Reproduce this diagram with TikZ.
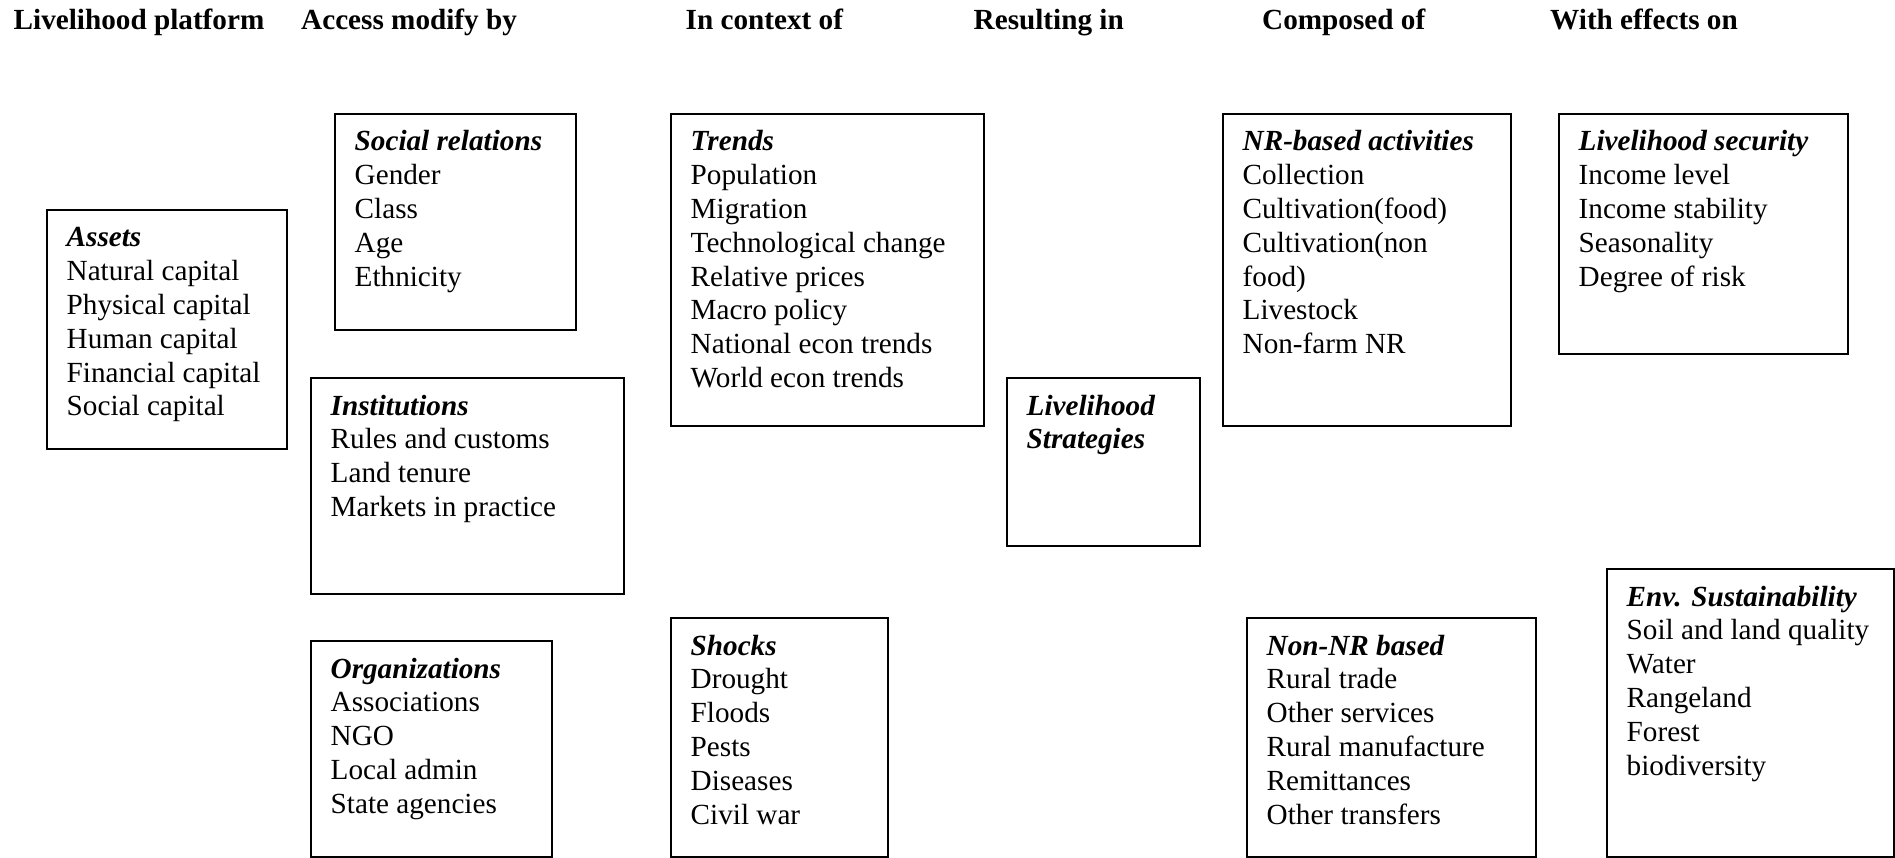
\documentclass[tikz,border=0pt]{standalone}
\usepackage{fontspec}
\setmainfont{Liberation Serif}
\newcommand{\boxtext}[1]{\begin{tabular}[t]{@{}l@{}}#1\end{tabular}}
\newcommand{\ttl}[1]{\textbf{\textit{#1}}}
\begin{document}
\begin{tikzpicture}[x=1pt,y=-1pt,
  frame/.style={draw=black, line width=2pt, inner sep=0pt, anchor=north west},
  body/.style={anchor=base west, inner sep=0pt, font=\fontsize{29.2}{33.8}\selectfont},
  head/.style={anchor=base west, inner sep=0pt, font=\fontsize{29.2}{33.8}\selectfont\bfseries}]
\useasboundingbox (0,0) rectangle (1895,858);
% headers
\node[head] (h1) at (13.5,30) {Livelihood platform};
\node[head] (h2) at (301,30) {Access modify by};
\node[head] (h3) at (685.5,30) {In context of};
\node[head] (h4) at (973.5,30) {Resulting in};
\node[head] (h5) at (1262,30) {Composed of};
\node[head] (h6) at (1550,30) {With effects on};
% boxes
\node[frame, minimum width=240pt, minimum height=239pt] (assets) at (46,209) {};
\node[frame, minimum width=241pt, minimum height=216pt] (social) at (334,113) {};
\node[frame, minimum width=313pt, minimum height=216pt] (inst) at (310,377) {};
\node[frame, minimum width=241pt, minimum height=216pt] (org) at (310,640) {};
\node[frame, minimum width=313pt, minimum height=312pt] (trends) at (670,113) {};
\node[frame, minimum width=217pt, minimum height=239pt] (shocks) at (670,617) {};
\node[frame, minimum width=193pt, minimum height=168pt] (strat) at (1006,377) {};
\node[frame, minimum width=288pt, minimum height=312pt] (nr) at (1222,113) {};
\node[frame, minimum width=289pt, minimum height=239pt] (nonnr) at (1246,617) {};
\node[frame, minimum width=289pt, minimum height=240pt] (secur) at (1558,113) {};
\node[frame, minimum width=287pt, minimum height=288pt] (env) at (1606,568) {};
% texts
\node[body] (assetsT) at ([shift={(20.5,38)}]assets.north west) {\boxtext{\ttl{Assets}\\Natural capital\\Physical capital\\Human capital\\Financial capital\\Social capital}};
\node[body] (socialT) at ([shift={(20.5,38)}]social.north west) {\boxtext{\ttl{Social relations}\\Gender\\Class\\Age\\Ethnicity}};
\node[body] (instT) at ([shift={(20.5,38)}]inst.north west) {\boxtext{\ttl{Institutions}\\Rules and customs\\Land tenure\\Markets in practice}};
\node[body] (orgT) at ([shift={(20.5,38)}]org.north west) {\boxtext{\ttl{Organizations}\\Associations\\NGO\\Local admin\\State agencies}};
\node[body] (trendsT) at ([shift={(20.5,38)}]trends.north west) {\boxtext{\ttl{Trends}\\Population\\Migration\\Technological change\\Relative prices\\Macro policy\\National econ trends\\World econ trends}};
\node[body] (shocksT) at ([shift={(20.5,38)}]shocks.north west) {\boxtext{\ttl{Shocks}\\Drought\\Floods\\Pests\\Diseases\\Civil war}};
\node[body] (stratT) at ([shift={(20.5,38)}]strat.north west) {\boxtext{\ttl{Livelihood}\\\ttl{Strategies}}};
\node[body] (nrT) at ([shift={(20.5,38)}]nr.north west) {\boxtext{\ttl{NR-based activities}\\Collection\\Cultivation(food)\\Cultivation(non\\food)\\Livestock\\Non-farm NR}};
\node[body] (nonnrT) at ([shift={(20.5,38)}]nonnr.north west) {\boxtext{\ttl{Non-NR based}\\Rural trade\\Other services\\Rural manufacture\\Remittances\\Other transfers}};
\node[body] (securT) at ([shift={(20.5,38)}]secur.north west) {\boxtext{\ttl{Livelihood security}\\Income level\\Income stability\\Seasonality\\Degree of risk}};
\node[body] (envT) at ([shift={(20.5,38)}]env.north west) {\boxtext{\ttl{Env. Sustainability}\\Soil and land quality\\Water\\Rangeland\\Forest\\biodiversity}};
\end{tikzpicture}
\end{document}
